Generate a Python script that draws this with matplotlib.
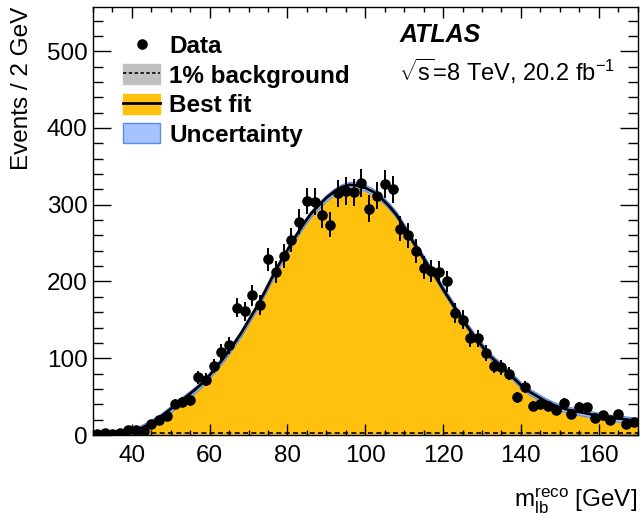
import numpy as np
import matplotlib
matplotlib.use("Agg")
import matplotlib.pyplot as plt
from matplotlib.patches import Patch
from matplotlib.lines import Line2D
from matplotlib.ticker import MultipleLocator

plt.rcParams['font.family'] = ['Liberation Sans', 'DejaVu Sans']
plt.rcParams['mathtext.fontset'] = 'custom'
plt.rcParams['mathtext.rm'] = 'Liberation Sans'
plt.rcParams['mathtext.it'] = 'Liberation Sans:italic'
plt.rcParams['mathtext.bf'] = 'Liberation Sans:bold'

# ---- data ----
bin_centers = np.arange(31, 170, 2)
data_counts = [1, 2, 1, 2, 7, 6, 5, 14, 19, 25,
               41, 43, 45, 75, 72, 90, 108, 117, 166, 161,
               182, 170, 229, 212, 233, 254, 278, 305, 304, 287,
               274, 315, 318, 316, 328, 295, 312, 327, 320, 269,
               260, 240, 218, 214, 212, 200, 159, 150, 126, 126,
               107, 90, 88, 80, 49, 63, 38, 41, 38, 32,
               42, 28, 37, 36, 22, 26, 19, 27, 14, 17]

fit_x = np.arange(30, 171, 2)
fit_y = [1, 1.5, 2, 3, 4, 5, 8, 13, 19, 26,
         34, 42, 50, 58, 67, 78, 90, 103, 117, 132,
         149, 166, 185, 205, 224, 241, 258, 274, 288, 299,
         309, 317, 323, 326, 325, 322, 317, 309, 299, 287,
         271, 254, 238, 222, 207, 190, 174, 158, 143, 129,
         116, 103, 94, 85, 75, 65, 57, 51, 45, 40,
         36, 33, 31, 29, 27, 25, 23, 22, 21, 19.5, 18.5]
fit_unc = 4.0

bkg_x = [30, 70, 100, 130, 170]
bkg_y = [2, 2, 2, 2, 2]

data_counts = np.array(data_counts, dtype=float)
fit_y = np.array(fit_y, dtype=float)
data_err = np.sqrt(data_counts)

yellow = '#FFC10E'
blue_fill = '#A6C2FF'
blue_edge = '#5B8CE8'

fig = plt.figure(figsize=(6.44, 5.17), dpi=100)
ax = fig.add_axes([0.1444, 0.1586, 0.8456, 0.8284])

ax.fill_between(fit_x, 0, fit_y, color=yellow, lw=0, zorder=1)
ax.fill_between(fit_x, fit_y - fit_unc, fit_y + fit_unc, color=blue_fill,
                edgecolor=blue_edge, lw=0.8, zorder=2)
ax.plot(fit_x, fit_y, color='black', lw=2.0, zorder=3)
ax.plot(bkg_x, bkg_y, color='black', lw=1.2, ls=(0, (3, 2)), zorder=3)

ax.errorbar(bin_centers, data_counts, yerr=data_err, fmt='o', color='black',
            ms=6.6, elinewidth=1.4, capsize=0, zorder=5)

ax.set_xlim(30, 170)
ax.set_ylim(0, 558)

ax.xaxis.set_major_locator(MultipleLocator(20))
ax.xaxis.set_minor_locator(MultipleLocator(5))
ax.yaxis.set_major_locator(MultipleLocator(100))
ax.yaxis.set_minor_locator(MultipleLocator(20))
ax.tick_params(which='both', direction='in', top=True, right=True,
               labelsize=17.5, width=1.0)
ax.tick_params(axis='x', which='major', length=8, pad=7)
ax.tick_params(axis='x', which='minor', length=3.5)
ax.tick_params(axis='y', which='major', length=13, pad=4)
ax.tick_params(axis='y', which='minor', length=7)
for s in ax.spines.values():
    s.set_linewidth(1.0)

ax.set_ylabel('Events / 2 GeV', fontsize=17.5, loc='top', labelpad=10)
ax.set_xlabel(r'm$_{\rm lb}^{\rm reco}$ [GeV]', fontsize=17.5, loc='right',
              labelpad=14)

handles = [
    Line2D([], [], marker='o', color='black', ls='none', ms=6.6),
    (Patch(facecolor='#C0C0C0', edgecolor='#C0C0C0'),
     Line2D([], [], color='black', ls=(0, (2, 1.5)), lw=1.2)),
    (Patch(facecolor=yellow, edgecolor=yellow),
     Line2D([], [], color='black', lw=2.0)),
    Patch(facecolor=blue_fill, edgecolor=blue_edge, lw=1.0),
]
labels = ['Data', '1% background', 'Best fit', 'Uncertainty']
leg = ax.legend(handles, labels, loc='upper left',
                bbox_to_anchor=(0.056, 0.935), frameon=False,
                prop={'weight': 'bold', 'size': 17.5},
                handlelength=1.5, handleheight=0.9, handletextpad=0.38,
                labelspacing=0.25, borderaxespad=0, borderpad=0)

ax.text(0.562, 0.935, 'ATLAS', transform=ax.transAxes, fontsize=18,
        fontweight='bold', fontstyle='italic', va='center', ha='left')
ax.text(0.562, 0.85, r'$\sqrt{\rm s}$=8 TeV, 20.2 fb$^{-1}$', transform=ax.transAxes,
        fontsize=17, va='center', ha='left')

fig.savefig('out.png', dpi=100)
